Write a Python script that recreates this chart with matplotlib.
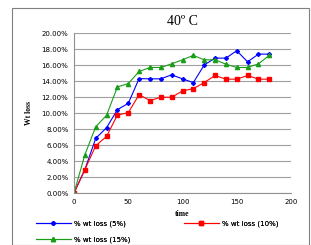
import matplotlib.pyplot as plt
from matplotlib.patches import Rectangle
from matplotlib.ticker import PercentFormatter

time = [0, 10, 20, 30, 40, 50, 60, 70, 80, 90, 100, 110, 120, 130, 140, 150, 160, 170, 180]
loss_5 = [0, 2.93, 6.82, 8.16, 10.42, 11.2, 14.3, 14.27, 14.27, 14.77, 14.27, 13.8,
          16.0, 16.86, 16.86, 17.78, 16.4, 17.36, 17.36]
loss_10 = [0, 2.93, 5.9, 7.07, 9.75, 10.04, 12.3, 11.55, 11.97, 11.97, 12.76, 13.05,
           13.8, 14.69, 14.23, 14.23, 14.69, 14.23, 14.23]
loss_15 = [0, 4.77, 8.28, 9.71, 13.26, 13.68, 15.19, 15.69, 15.69, 16.15, 16.65, 17.2,
           16.65, 16.65, 16.1, 15.69, 15.69, 16.15, 17.2]

fig = plt.figure(figsize=(3.11, 2.45), dpi=100)
fig.patches.append(Rectangle((12 / 311, 0), 297 / 311, 1 - 8 / 245, transform=fig.transFigure,
                             fill=False, edgecolor="#808080", linewidth=0.8))

ax = fig.add_axes([74 / 311, 1 - 193 / 245, 217 / 311, 160 / 245])
l1, = ax.plot(time, loss_5, color="blue", marker="D", markersize=2, linewidth=0.8,
              label="% wt loss (5%)")
l2, = ax.plot(time, loss_10, color="red", marker="s", markersize=3, linewidth=0.8,
              label="% wt loss (10%)")
l3, = ax.plot(time, loss_15, color="#1a9e1a", marker="^", markersize=3, linewidth=0.8,
              label="% wt loss (15%)")

ax.set_xlim(0, 200)
ax.set_ylim(0, 20)
ax.set_xticks([0, 50, 100, 150, 200])
ax.set_yticks(range(0, 21, 2))
ax.yaxis.set_major_formatter(PercentFormatter(decimals=2))
ax.grid(axis="y", color="#a0a0a0", linewidth=0.8)
ax.set_axisbelow(True)
for s in ["top", "right"]:
    ax.spines[s].set_visible(False)
for s in ["left", "bottom"]:
    ax.spines[s].set_color("#909090")
    ax.spines[s].set_linewidth(0.8)
ax.tick_params(labelsize=5, length=0, pad=4)

ax.set_title("40º C", family="Liberation Serif", fontsize=10, pad=6)
ax.set_ylabel("Wt loss", family="Liberation Serif", fontweight="bold", fontsize=5.5, labelpad=6)
ax.set_xlabel("time", family="Liberation Serif", fontweight="bold", fontsize=5.5, labelpad=4)

# three legend entries placed by hand, like the Excel layout
for handle, x, y in [(l1, 36, 224), (l2, 184, 224), (l3, 36, 240)]:
    leg = fig.legend(handles=[handle], loc="center left", bbox_to_anchor=(x / 311, 1 - y / 245),
                     frameon=False, fontsize=5, handlelength=5, numpoints=1,
                     handletextpad=0.5, borderpad=0, borderaxespad=0)
    fig.add_artist(leg)

fig.savefig("out.png", dpi=100)
